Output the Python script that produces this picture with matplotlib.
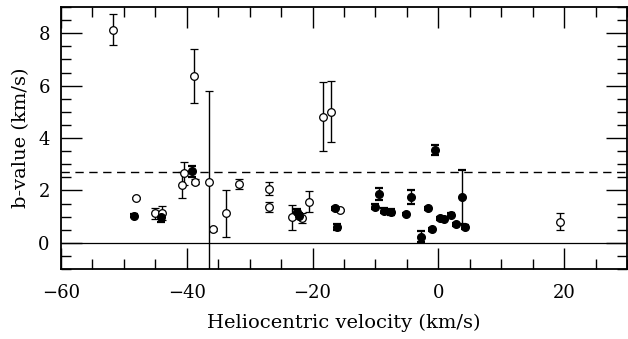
import numpy as np
import matplotlib
matplotlib.use("Agg")
import matplotlib.pyplot as plt
from matplotlib.ticker import MultipleLocator

# open symbols: velocity, b-value, error
open_v = [-51.7, -38.8, -48.0, -45.0, -43.9, -40.5, -40.8, -38.7, -36.4, -35.8,
          -33.7, -31.7, -27.0, -27.0, -23.2, -21.6, -20.5, -18.4, -17.1, -15.7, 19.4]
open_b = [8.14, 6.36, 1.71, 1.12, 1.14, 2.65, 2.20, 2.34, 2.31, 0.52,
          1.13, 2.24, 2.07, 1.36, 0.97, 0.94, 1.57, 4.81, 5.00, 1.26, 0.81]
open_err = [0.59, 1.04, 0.04, 0.20, 0.28, 0.45, 0.50, 0.10, 3.47, 0.05,
            0.90, 0.18, 0.26, 0.19, 0.47, 0.20, 0.41, 1.32, 1.16, 0.04, 0.32]

# filled symbols
fill_v = [-48.4, -44.1, -39.1, -22.5, -22.2, -16.5, -16.1, -10.0, -9.4, -8.6, -7.5,
          -5.2, -4.4, -2.7, -1.7, -1.0, -0.6, 0.3, 0.85, 2.06, 2.8, 3.76, 4.2]
fill_b = [1.04, 0.98, 2.73, 1.16, 1.03, 1.32, 0.60, 1.38, 1.87, 1.22, 1.18,
          1.10, 1.76, 0.24, 1.32, 0.52, 3.54, 0.93, 0.91, 1.07, 0.71, 1.74, 0.61]
fill_err = [0.05, 0.20, 0.22, 0.12, 0.10, 0.05, 0.12, 0.10, 0.22, 0.10, 0.10,
            0.05, 0.27, 0.22, 0.05, 0.05, 0.19, 0.05, 0.05, 0.05, 0.06, 1.04, 0.08]

b_limit = 2.69

plt.rcParams['font.family'] = ['DejaVu Serif']
plt.rcParams['font.size'] = 13

fig = plt.figure(figsize=(6.28, 3.39), dpi=100)
ax = fig.add_axes([0.0971, 0.2065, 0.9013, 0.7725])

ax.axhline(0, color='black', lw=0.9, zorder=1)
ax.axhline(b_limit, color='black', lw=1.0, ls=(0, (6, 4)), zorder=1)

ax.errorbar(open_v, open_b, yerr=open_err, fmt='o', mfc='white', mec='black',
            ms=5.5, mew=0.9, ecolor='black', elinewidth=1.0, capsize=2.8,
            capthick=1.6, zorder=3)
ax.errorbar(fill_v, fill_b, yerr=fill_err, fmt='o', mfc='black', mec='black',
            ms=5.5, ecolor='black', elinewidth=1.0, capsize=2.8,
            capthick=1.6, zorder=3)

ax.set_xlim(-60, 30)
ax.set_ylim(-1, 9)
ax.xaxis.set_major_locator(MultipleLocator(20))
ax.xaxis.set_minor_locator(MultipleLocator(5))
ax.yaxis.set_major_locator(MultipleLocator(2))
ax.yaxis.set_minor_locator(MultipleLocator(0.5))
ax.tick_params(which='both', direction='in', top=True, right=True, width=1.0)
ax.tick_params(which='major', length=15, labelsize=13)
ax.tick_params(axis='x', which='major', pad=11)
ax.tick_params(axis='y', which='major', pad=8)
ax.tick_params(which='minor', length=7.5)
for s in ax.spines.values():
    s.set_linewidth(1.3)

ax.set_xlabel('Heliocentric velocity (km/s)', fontsize=14, labelpad=8)
ax.set_ylabel('b-value (km/s)', fontsize=14, labelpad=6)

fig.savefig('out.png', dpi=100)
